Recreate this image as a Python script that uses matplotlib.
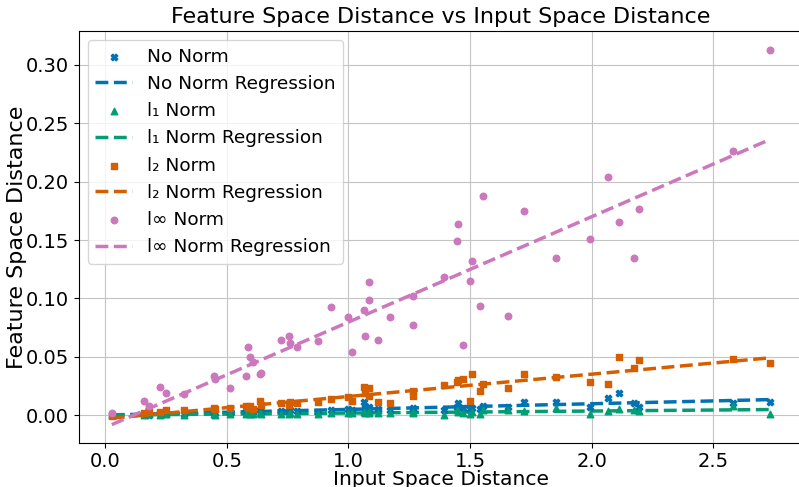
import numpy as np
import matplotlib.pyplot as plt
import seaborn as sns

# Input space distances (shared by all four norms)
input_dist = [0.027, 0.160, 0.178, 0.225, 0.250, 0.325, 0.448, 0.452, 0.512, 0.578,
              0.585, 0.594, 0.608, 0.635, 0.642, 0.724, 0.754, 0.758, 0.787, 0.874,
              0.927, 0.999, 1.015, 1.063, 1.067, 1.083, 1.085, 1.120, 1.171, 1.264,
              1.266, 1.393, 1.448, 1.451, 1.469, 1.500, 1.507, 1.541, 1.553, 1.654,
              1.723, 1.852, 1.995, 2.068, 2.112, 2.175, 2.194, 2.580, 2.732]

# Feature space distances per norm
no_norm = [0.0003, 0.0010, 0.0005, 0.0015, 0.0012, 0.0010, 0.0025, 0.0018, 0.0020, 0.0030,
           0.0022, 0.0035, 0.0028, 0.0040, 0.0030, 0.0035, 0.0028, 0.0042, 0.0038, 0.0030,
           0.0045, 0.0055, 0.0040, 0.0114, 0.0060, 0.0045, 0.0070, 0.0050, 0.0040, 0.0060,
           0.0050, 0.0043, 0.0070, 0.0100, 0.0060, 0.0050, 0.0065, 0.0055, 0.0075, 0.0070,
           0.0109, 0.0114, 0.0070, 0.0149, 0.0186, 0.0100, 0.0071, 0.0100, 0.0114]
l1_norm = [0.0000, 0.0003, 0.0006, 0.0002, 0.0008, 0.0004, 0.0012, 0.0005, 0.0010, 0.0008,
           0.0015, 0.0012, 0.0006, 0.0018, 0.0010, 0.0014, 0.0008, 0.0016, 0.0012, 0.0010,
           0.0020, 0.0018, 0.0015, 0.0030, 0.0022, 0.0020, 0.0025, 0.0018, 0.0015, 0.0025,
           0.0020, 0.0005, 0.0040, 0.0030, 0.0020, 0.0010, 0.0030, 0.0006, 0.0040, 0.0040,
           0.0037, 0.0057, 0.0010, 0.0034, 0.0051, 0.0040, 0.0037, 0.0077, 0.0014]
l2_norm = [-0.0010, 0.0020, 0.0030, 0.0030, 0.0040, 0.0040, 0.0060, 0.0050, 0.0060, 0.0080,
           0.0065, 0.0075, 0.0055, 0.0120, 0.0085, 0.0100, 0.0090, 0.0110, 0.0105, 0.0114,
           0.0135, 0.0157, 0.0120, 0.0240, 0.0186, 0.0160, 0.0230, 0.0114, 0.0105, 0.0210,
           0.0160, 0.0257, 0.0280, 0.0300, 0.0310, 0.0120, 0.0350, 0.0210, 0.0270, 0.0230,
           0.0350, 0.0330, 0.0280, 0.0270, 0.0500, 0.0400, 0.0470, 0.0485, 0.0450]
linf_norm = [0.0015, 0.0120, 0.0080, 0.0240, 0.0190, 0.0180, 0.0334, 0.0306, 0.0234, 0.0337,
             0.0580, 0.0495, 0.0457, 0.0352, 0.0360, 0.0640, 0.0680, 0.0615, 0.0586, 0.0637,
             0.0924, 0.0843, 0.0538, 0.0903, 0.0678, 0.0990, 0.1140, 0.0640, 0.0843, 0.1020,
             0.0775, 0.1180, 0.1490, 0.1636, 0.0603, 0.1150, 0.1320, 0.0937, 0.1880, 0.0850,
             0.1750, 0.1350, 0.1507, 0.2040, 0.1655, 0.1346, 0.1764, 0.2258, 0.3130]

series = [
    ('No Norm', no_norm, 'X'),
    ('l\u2081 Norm', l1_norm, '^'),
    ('l\u2082 Norm', l2_norm, 's'),
    ('l\u221e Norm', linf_norm, 'o'),
]
palette = sns.color_palette('colorblind')
colors = [palette[0], palette[2], palette[3], palette[4]]

fig = plt.figure(figsize=(7.99, 4.87), dpi=100)
ax = fig.add_axes([78.7 / 799, 44.3 / 487, (802.6 - 78.7) / 799, (442.7 - 31) / 487])

x = np.array(input_dist)
x_line = np.array([x.min(), x.max()])
for (name, vals, marker), col in zip(series, colors):
    y = np.array(vals)
    # линейная регрессия
    k, b = np.polyfit(x, y, 1)
    ax.scatter(x, y, color=col, marker=marker, s=22, label=name, zorder=3)
    ax.plot(x_line, k * x_line + b, '--', color=col, lw=2.5, label=f'{name} Regression', zorder=2)

ax.set_xlim(-0.109, 2.867)
ax.set_ylim(-0.0236, 0.329)
ax.set_yticks([0.0, 0.05, 0.10, 0.15, 0.20, 0.25, 0.30])
ax.yaxis.set_major_formatter(plt.FormatStrFormatter('%.2f'))
ax.tick_params(labelsize=14)
ax.grid(True, color='#c4c4c4')
ax.set_title('Feature Space Distance vs Input Space Distance', fontsize=16)
ax.set_xlabel('Input Space Distance', fontsize=14.6, labelpad=-1)
ax.set_ylabel('Feature Space Distance', fontsize=16, labelpad=-1)
ax.legend(loc='upper left', fontsize=13.3)

fig.savefig('out.png', dpi=100)
